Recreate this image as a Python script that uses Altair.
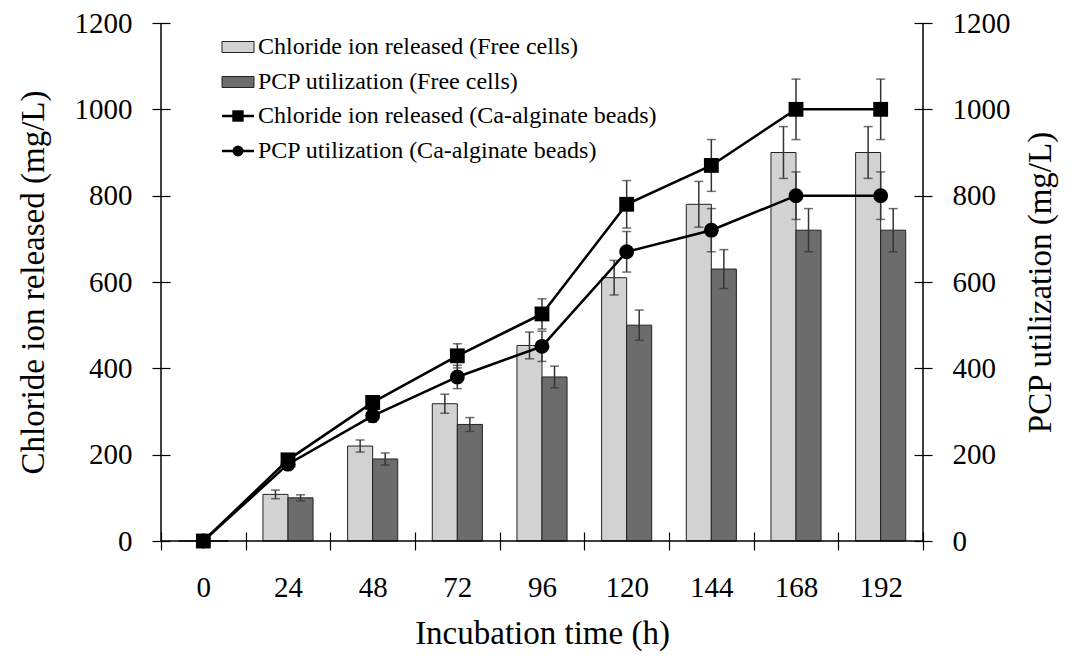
import altair as alt
import pandas as pd

FONT = "Liberation Serif"
W, H = 762, 518

times = ["0", "24", "48", "72", "96", "120", "144", "168", "192"]
cl_free = [0, 108, 220, 318, 453, 610, 780, 900, 900]
cl_free_err = [0, 10, 14, 22, 31, 40, 53, 60, 60]
pcp_free = [0, 100, 190, 270, 380, 500, 630, 720, 720]
pcp_free_err = [0, 7, 14, 16, 25, 35, 45, 50, 50]
cl_bead = [0, 188, 321, 429, 526, 780, 870, 1000, 1000]
cl_bead_err = [0, 10, 15, 28, 35, 55, 60, 70, 70]
pcp_bead = [0, 178, 290, 380, 451, 670, 720, 800, 800]
pcp_bead_err = [0, 10, 15, 27, 35, 47, 50, 55, 55]

bar_series = ["Chloride ion released (Free cells)", "PCP utilization (Free cells)"]
line_series = ["Chloride ion released (Ca-alginate beads)", "PCP utilization (Ca-alginate beads)"]
y_ticks = [0, 200, 400, 600, 800, 1000, 1200]

bar_fill = ["#d2d2d2", "#6c6c6c"]


def long_df(series_names, values, errors):
    rows = []
    for name, vals, errs in zip(series_names, values, errors):
        for t, v, e in zip(times, vals, errs):
            rows.append({"time": t, "series": name, "value": v, "err": e,
                         "lo": v - e, "hi": v + e})
    return pd.DataFrame(rows)


def caps_df(df):
    d = df[df["err"] > 0]
    a = d[["time", "series"]].copy()
    a["cap"] = d["lo"]
    b = d[["time", "series"]].copy()
    b["cap"] = d["hi"]
    return pd.concat([a, b], ignore_index=True)


bars_df = long_df(bar_series, [cl_free, pcp_free], [cl_free_err, pcp_free_err])
beads_df = long_df(line_series, [cl_bead, pcp_bead], [cl_bead_err, pcp_bead_err])
bars_err_df = bars_df[bars_df["err"] > 0]
beads_err_df = beads_df[beads_df["err"] > 0]
bars_caps = caps_df(bars_df)
beads_caps = caps_df(beads_df)

common_axis = dict(labelFont=FONT, titleFont=FONT, labelFontSize=29, titleFontSize=33,
                   labelColor="black", titleColor="black", titleFontWeight="normal",
                   tickColor="black", tickWidth=1.2, domain=False, grid=False,
                   tickSize=18, offset=-9)

x_axis = alt.Axis(title="Incubation time (h)", labelAngle=0, tickBand="extent",
                  labelPadding=23, titlePadding=15, **common_axis)
X = alt.X("time:N", sort=times,
          scale=alt.Scale(domain=times, paddingInner=0, paddingOuter=0),
          axis=x_axis)
XO = alt.XOffset("series:N", sort=bar_series,
                 scale=alt.Scale(domain=bar_series, paddingOuter=0.69, paddingInner=0))

yscale = alt.Scale(domain=[0, 1200], nice=False, zero=True)
left_axis = alt.Axis(title="Chloride ion released (mg/L)", values=y_ticks, format="d",
                     labelPadding=20, titlePadding=24, **common_axis)
right_axis = alt.Axis(title="PCP utilization (mg/L)", values=y_ticks, format="d", orient="right",
                      labelPadding=20, titlePadding=47, titleAngle=270, **common_axis)

bars = alt.Chart(bars_df).mark_bar(stroke="#222222", strokeWidth=1).encode(
    x=X, xOffset=XO,
    y=alt.Y("value:Q", scale=yscale, axis=left_axis),
    fill=alt.Fill("series:N", scale=alt.Scale(domain=bar_series, range=bar_fill), legend=None),
)
bar_err = alt.Chart(bars_err_df).mark_rule(color="#333333", strokeWidth=1.5).encode(
    x=X, xOffset=XO,
    y=alt.Y("lo:Q", scale=yscale, axis=left_axis), y2="hi:Q",
)
bar_caps = alt.Chart(bars_caps).mark_tick(color="#333333", thickness=1.5, size=9).encode(
    x=X, xOffset=XO,
    y=alt.Y("cap:Q", scale=yscale, axis=left_axis),
)

one = pd.DataFrame({"k": [0]})
frame = alt.layer(
    alt.Chart(one).mark_rule(color="black", strokeWidth=1.5).encode(
        x=alt.value(0), y=alt.value(0), y2=alt.value(H)),
    alt.Chart(one).mark_rule(color="black", strokeWidth=1.5).encode(
        x=alt.value(W), y=alt.value(0), y2=alt.value(H)),
    alt.Chart(one).mark_rule(color="black", strokeWidth=1.5).encode(
        x=alt.value(0), x2=alt.value(W), y=alt.value(H)),
)

# legend (manual)
legend_y = [24, 59, 93, 128]
legend_layers = []
for i, fill in enumerate(bar_fill):
    cy = legend_y[i]
    legend_layers.append(alt.Chart(one).mark_rect(fill=fill, stroke="#222222", strokeWidth=1).encode(
        x=alt.value(61), x2=alt.value(93), y=alt.value(cy - 5.5), y2=alt.value(cy + 5.5)))
for j, shape in enumerate(["square", "circle"]):
    cy = legend_y[2 + j]
    legend_layers.append(alt.Chart(one).mark_rule(color="black", strokeWidth=2.5).encode(
        x=alt.value(61), x2=alt.value(93), y=alt.value(cy)))
    legend_layers.append(alt.Chart(one).mark_point(shape=shape, filled=True, color="black",
                                                   opacity=1, size=130 if shape == "square" else 120).encode(
        x=alt.value(77), y=alt.value(cy)))
for i, label in enumerate(bar_series + line_series):
    legend_layers.append(alt.Chart(one).mark_text(
        font=FONT, fontSize=24, align="left", baseline="middle", color="black").encode(
        x=alt.value(97), y=alt.value(legend_y[i]), text=alt.value(label)))

left = alt.layer(bars, bar_err, bar_caps, frame, *legend_layers)

bead_err = alt.Chart(beads_err_df).mark_rule(color="#333333", strokeWidth=1.5).encode(
    x=X, y=alt.Y("lo:Q", scale=yscale, axis=right_axis), y2="hi:Q",
)
bead_caps = alt.Chart(beads_caps).mark_tick(color="#333333", thickness=1.5, size=9).encode(
    x=X, y=alt.Y("cap:Q", scale=yscale, axis=right_axis),
)
lines = alt.Chart(beads_df).mark_line(color="black", strokeWidth=2.5).encode(
    x=X, y=alt.Y("value:Q", scale=yscale, axis=right_axis),
    detail="series:N",
)
points = alt.Chart(beads_df).mark_point(filled=True, color="black", opacity=1, size=220).encode(
    x=X, y=alt.Y("value:Q", scale=yscale, axis=right_axis),
    shape=alt.Shape("series:N", scale=alt.Scale(domain=line_series, range=["square", "circle"]),
                    legend=None),
)
right = alt.layer(bead_err, bead_caps, lines, points)

chart = alt.layer(left, right).resolve_scale(y="independent").properties(
    width=W, height=H,
    autosize=alt.AutoSizeParams(type="none"),
    padding={"left": 153, "top": 15, "right": 140, "bottom": 110},
    background="white",
).configure(font=FONT).configure_axis(
    labelFont=FONT, titleFont=FONT
).configure_view(stroke=None)

chart.save("out.html", embed_options={"renderer": "svg", "actions": False})
